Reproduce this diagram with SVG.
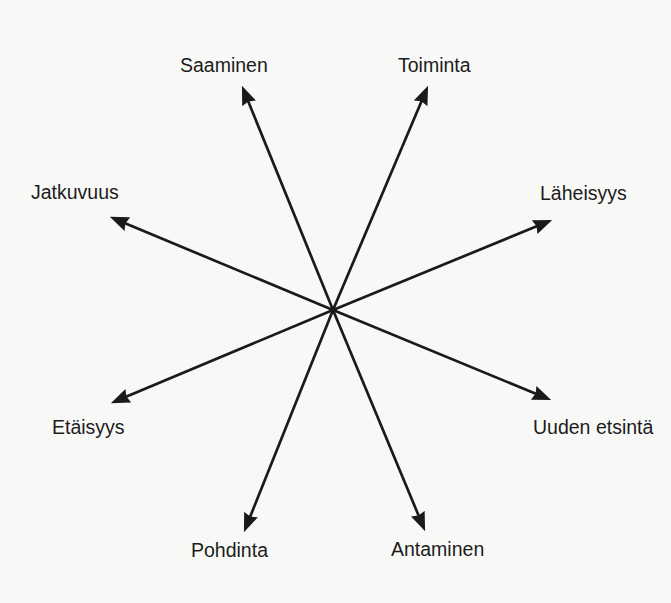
<svg xmlns="http://www.w3.org/2000/svg" width="671" height="603" viewBox="0 0 671 603">
<style>
.lbl{font-family:"Liberation Sans",Arial,sans-serif;font-size:19.5px;fill:#1c1c1c}
.ray{stroke:#1a1a1a;stroke-width:2.7;fill:none}
</style>
<defs>
<marker id="ah" markerUnits="userSpaceOnUse" markerWidth="19" markerHeight="15" refX="14" refY="7" orient="auto" viewBox="0 0 18 14">
<path d="M0,0 L18,7 L0,14 L2,7 z" fill="#1a1a1a"/>
</marker>
</defs>
<rect width="671" height="603" fill="#f8f8f6"/>
<g id="connectors">
<path class="ray" d="M333,310 L243.5,89.7" marker-end="url(#ah)"/>
<path class="ray" d="M333,310 L426.4,89.7" marker-end="url(#ah)"/>
<path class="ray" d="M333,310 L113.7,218.5" marker-end="url(#ah)"/>
<path class="ray" d="M333,310 L548.3,221.5" marker-end="url(#ah)"/>
<path class="ray" d="M333,310 L114.7,401.5" marker-end="url(#ah)"/>
<path class="ray" d="M333,310 L547.3,398.5" marker-end="url(#ah)"/>
<path class="ray" d="M333,310 L245.5,528.3" marker-end="url(#ah)"/>
<path class="ray" d="M333,310 L423.5,527.3" marker-end="url(#ah)"/>
</g>
<g id="saaminen"><text class="lbl" x="180" y="72">Saaminen</text></g>
<g id="toiminta"><text class="lbl" x="398" y="72">Toiminta</text></g>
<g id="jatkuvuus"><text class="lbl" x="31" y="199">Jatkuvuus</text></g>
<g id="laheisyys"><text class="lbl" x="540" y="200">Läheisyys</text></g>
<g id="etaisyys"><text class="lbl" x="52" y="434">Etäisyys</text></g>
<g id="uuden-etsinta"><text class="lbl" x="533" y="434">Uuden etsintä</text></g>
<g id="pohdinta"><text class="lbl" x="191" y="557">Pohdinta</text></g>
<g id="antaminen"><text class="lbl" x="391" y="556">Antaminen</text></g>
</svg>
